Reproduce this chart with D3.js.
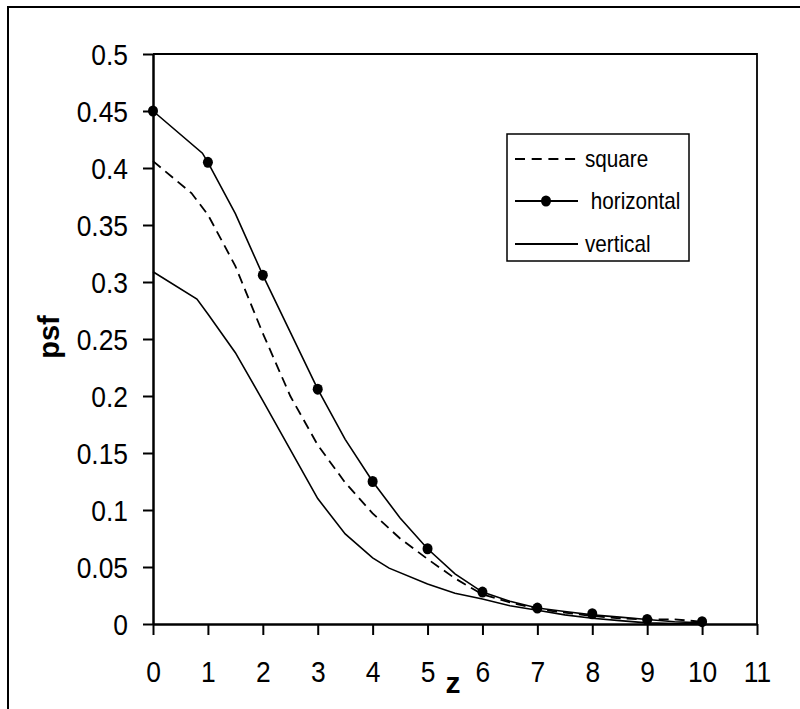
<!DOCTYPE html>
<html>
<head>
<meta charset="utf-8">
<script src="https://cdn.jsdelivr.net/npm/d3@7"></script>
<style>
  body { margin: 0; background: #fff; }
  svg { display: block; }
  text { font-family: "Liberation Sans", Arial, sans-serif; fill: #000; }
</style>
</head>
<body>
<div id="chart"></div>
<script>
// Data
const squareZ = [0, 0.7, 1, 1.5, 2, 2.5, 3, 3.5, 4, 4.5, 5, 5.5, 6, 6.5, 7, 7.5, 8, 8.5, 9, 9.5, 10];
const squareV = [0.406, 0.378, 0.359, 0.314, 0.255, 0.2, 0.157, 0.124, 0.097, 0.075, 0.057, 0.04, 0.026, 0.019, 0.013, 0.01, 0.007, 0.005, 0.004, 0.004, 0.002];

const horizLineZ = [0, 0.9, 1, 1.5, 2, 2.5, 3, 3.5, 4, 4.5, 5, 5.5, 6, 6.5, 7, 7.5, 8, 8.5, 9, 9.5, 10];
const horizLineV = [0.45, 0.413, 0.405, 0.36, 0.306, 0.256, 0.206, 0.162, 0.125, 0.093, 0.066, 0.044, 0.028, 0.02, 0.014, 0.011, 0.008, 0.006, 0.004, 0.002, 0.001];

const horizDotZ = [0, 1, 2, 3, 4, 5, 6, 7, 8, 9, 10];
const horizDotV = [0.45, 0.405, 0.306, 0.206, 0.125, 0.066, 0.028, 0.014, 0.009, 0.004, 0.002];

const vertZ = [0, 0.8, 1, 1.5, 2, 2.5, 3, 3.5, 4, 4.3, 5, 5.5, 6, 6.5, 7, 7.5, 8, 8.5, 9, 9.5, 10];
const vertV = [0.309, 0.285, 0.272, 0.238, 0.196, 0.153, 0.11, 0.079, 0.058, 0.049, 0.035, 0.027, 0.022, 0.016, 0.012, 0.008, 0.005, 0.003, 0.001, 0.0005, 0.0003];

const xTicks = [0, 1, 2, 3, 4, 5, 6, 7, 8, 9, 10, 11];
const xTickLabels = ["0", "1", "2", "3", "4", "5", "6", "7", "8", "9", "10", "11"];
const yTicks = [0, 0.05, 0.1, 0.15, 0.2, 0.25, 0.3, 0.35, 0.4, 0.45, 0.5];
const yTickLabels = ["0", "0.05", "0.1", "0.15", "0.2", "0.25", "0.3", "0.35", "0.4", "0.45", "0.5"];

const legendNames = ["square", " horizontal", "vertical"];

const W = 800, H = 709;
const M = { top: 54, right: 43, bottom: 85, left: 153 };
const innerW = W - M.left - M.right;
const innerH = H - M.top - M.bottom;

const svg = d3.select("#chart").append("svg")
  .attr("width", W)
  .attr("height", H);

// outer frame, cut at right and bottom like the picture
svg.append("rect")
  .attr("x", 8).attr("y", 7)
  .attr("width", W).attr("height", H)
  .attr("fill", "none")
  .attr("stroke", "#000")
  .attr("stroke-width", 2);

const g = svg.append("g")
  .attr("transform", `translate(${M.left}, ${M.top})`);

const x = d3.scaleLinear().domain([0, 11]).range([0, innerW]);
const y = d3.scaleLinear().domain([0, 0.5]).range([innerH, 0]);

// plot frame (top + right)
g.append("path")
  .attr("d", `M0,0H${innerW}V${innerH}`)
  .attr("fill", "none")
  .attr("stroke", "#000")
  .attr("stroke-width", 1.8);

const xAxis = d3.axisBottom(x)
  .tickValues(xTicks)
  .tickFormat((d, i) => xTickLabels[i])
  .tickSize(11)
  .tickSizeOuter(0)
  .tickPadding(26);

const yAxis = d3.axisLeft(y)
  .tickValues(yTicks)
  .tickFormat((d, i) => yTickLabels[i])
  .tickSize(10)
  .tickSizeOuter(0)
  .tickPadding(15);

const gx = g.append("g")
  .attr("transform", `translate(0, ${innerH})`)
  .call(xAxis);
const gy = g.append("g").call(yAxis);

[gx, gy].forEach(a => {
  a.select(".domain").attr("stroke-width", 2.5);
  a.selectAll(".tick line").attr("stroke-width", 2);
  a.selectAll(".tick text")
    .attr("font-family", "'Liberation Sans', Arial, sans-serif")
    .attr("font-size", 30)
    .style("transform-box", "fill-box");
});
// slightly condensed digits like the original
gx.selectAll(".tick text").style("transform-origin", "center").style("transform", "scaleX(0.88)");
gy.selectAll(".tick text").attr("dy", "0.36em")
  .style("transform-origin", "right center").style("transform", "scaleX(0.88)");

// lines
const line = d3.line()
  .x(d => x(d[0]))
  .y(d => y(d[1]));

g.append("path")
  .datum(squareZ.map((z, i) => [z, squareV[i]]))
  .attr("d", line)
  .attr("fill", "none")
  .attr("stroke", "#000")
  .attr("stroke-width", 1.8)
  .attr("stroke-dasharray", "10,6");

g.append("path")
  .datum(vertZ.map((z, i) => [z, vertV[i]]))
  .attr("d", line)
  .attr("fill", "none")
  .attr("stroke", "#000")
  .attr("stroke-width", 1.6);

g.append("path")
  .datum(horizLineZ.map((z, i) => [z, horizLineV[i]]))
  .attr("d", line)
  .attr("fill", "none")
  .attr("stroke", "#000")
  .attr("stroke-width", 1.6);

g.selectAll("ellipse.dot")
  .data(horizDotZ.map((z, i) => [z, horizDotV[i]]))
  .join("ellipse")
  .attr("class", "dot")
  .attr("cx", d => x(d[0]))
  .attr("cy", d => y(d[1]))
  .attr("rx", 5)
  .attr("ry", 5.5)
  .attr("fill", "#000");

// axis titles
svg.append("text")
  .attr("x", 453)
  .attr("y", 693)
  .attr("text-anchor", "middle")
  .attr("font-weight", "bold")
  .attr("font-size", 30)
  .text("z");

svg.append("text")
  .attr("transform", "translate(59, 337) rotate(-90)")
  .attr("text-anchor", "middle")
  .attr("font-weight", "bold")
  .attr("font-size", 29)
  .text("psf");

// legend
const leg = svg.append("g").attr("transform", "translate(507, 134)");
leg.append("rect")
  .attr("width", 182).attr("height", 127)
  .attr("fill", "#fff")
  .attr("stroke", "#000")
  .attr("stroke-width", 1.5);

const rowY = [25, 67, 110];
legendNames.forEach((name, i) => {
  const r = leg.append("g").attr("transform", `translate(0, ${rowY[i]})`);
  const ln = r.append("line")
    .attr("x1", 8).attr("x2", 71)
    .attr("stroke", "#000")
    .attr("stroke-width", 1.8);
  if (i === 0) ln.attr("stroke-dasharray", "10,6.7");
  if (i === 1) r.append("ellipse").attr("cx", 39).attr("rx", 5).attr("ry", 5.5).attr("fill", "#000");
  r.append("text")
    .attr("x", 78)
    .attr("dy", "0.35em")
    .attr("font-size", 23)
    .attr("xml:space", "preserve")
    .style("white-space", "pre")
    .style("transform-box", "fill-box")
    .style("transform-origin", "left center")
    .style("transform", "scaleX(0.9)")
    .text(name);
});
</script>
</body>
</html>
